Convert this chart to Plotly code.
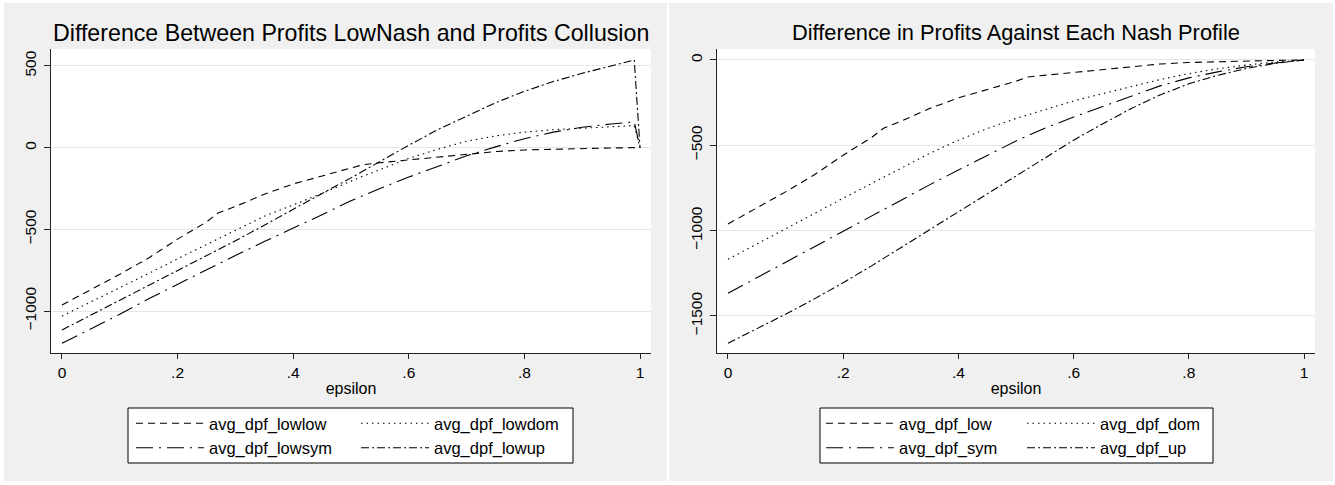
import plotly.graph_objects as go

# ---------------- data ----------------
eps = [0, .05, .1, .15, .2, .25, .27, .3, .35, .4, .45, .5, .52, .55, .6,
       .65, .7, .75, .8, .85, .9, .95, .99, 1.0]

# left panel: Difference Between Profits LowNash and Profits Collusion
avg_dpf_lowlow = [-963, -870, -775, -675, -560, -455, -400, -360, -285, -222, -172,
                  -125, -105, -92, -74, -56, -38, -24, -14, -9, -5, -2, 0, 0]
avg_dpf_lowdom = [-1031, -945, -860, -770, -680, -592, -558, -505, -420, -350, -280,
                  -205, -175, -135, -65, -10, 40, 72, 95, 110, 120, 128, 135, 0]
avg_dpf_lowsym = [-1198, -1110, -1020, -925, -835, -745, -712, -660, -575, -495, -410,
                  -325, -295, -250, -180, -115, -50, 5, 55, 95, 125, 145, 158, 0]
avg_dpf_lowup = [-1116, -1025, -935, -845, -755, -665, -628, -570, -475, -375, -280,
                 -185, -145, -85, 15, 110, 195, 275, 345, 405, 455, 500, 537, 0]

# right panel: Difference in Profits Against Each Nash Profile
avg_dpf_low = [-961, -868, -773, -673, -558, -453, -400, -360, -285, -222, -172,
               -125, -100, -90, -72, -55, -38, -24, -15, -10, -6, -3, -1, 0]
avg_dpf_dom = [-1168, -1080, -990, -900, -810, -722, -687, -635, -548, -470, -402,
               -343, -322, -290, -240, -198, -155, -115, -80, -52, -30, -12, -3, 0]
avg_dpf_sym = [-1367, -1276, -1185, -1094, -1003, -912, -876, -822, -732, -645, -558,
               -475, -445, -400, -335, -275, -215, -152, -105, -70, -40, -18, -5, 0]
avg_dpf_up = [-1660, -1575, -1490, -1400, -1305, -1205, -1165, -1100, -995, -890, -785,
              -680, -638, -575, -470, -375, -285, -205, -140, -90, -50, -20, -6, 0]

x_tickvals = [0, .2, .4, .6, .8, 1]
x_ticktext = ["0", ".2", ".4", ".6", ".8", "1"]
yl_tickvals = [-1000, -500, 0, 500]
yl_ticktext = ["\u22121000", "\u2212500", "0", "500"]
yr_tickvals = [-1500, -1000, -500, 0]
yr_ticktext = ["\u22121500", "\u22121000", "\u2212500", "0"]

title_left = "Difference Between Profits LowNash and Profits Collusion"
title_right = "Difference in Profits Against Each Nash Profile"

# ---------------- styling ----------------
W, H = 1335, 485
FONT = "Liberation Sans, Arial, sans-serif"
GRAY = "#F0F0F0"
GRID = "#E6E6E6"
AX = "#222222"

DASH = "7px,5px"
DOT = "1.5px,4px"
LONGDASHDOT = "17px,6px,2px,6px"
DASHDOT = "8px,3px,2px,3px"

def px_x(p):
    return p / W

def px_y(p):
    return 1 - p / H

fig = go.Figure()

left_series = [
    ("avg_dpf_lowlow", avg_dpf_lowlow, DASH, "legend"),
    ("avg_dpf_lowdom", avg_dpf_lowdom, DOT, "legend2"),
    ("avg_dpf_lowsym", avg_dpf_lowsym, LONGDASHDOT, "legend"),
    ("avg_dpf_lowup", avg_dpf_lowup, DASHDOT, "legend2"),
]
right_series = [
    ("avg_dpf_low", avg_dpf_low, DASH, "legend3"),
    ("avg_dpf_dom", avg_dpf_dom, DOT, "legend4"),
    ("avg_dpf_sym", avg_dpf_sym, LONGDASHDOT, "legend3"),
    ("avg_dpf_up", avg_dpf_up, DASHDOT, "legend4"),
]

for name, ys, dash, lg in left_series:
    fig.add_trace(go.Scatter(x=eps, y=ys, mode="lines", name=name,
                             line=dict(color="black", width=1.1, dash=dash),
                             xaxis="x", yaxis="y", legend=lg))
for name, ys, dash, lg in right_series:
    fig.add_trace(go.Scatter(x=eps, y=ys, mode="lines", name=name,
                             line=dict(color="black", width=1.1, dash=dash),
                             xaxis="x2", yaxis="y2", legend=lg))

tickfont = dict(family=FONT, size=15.5, color="black")
common_x = dict(range=[-0.019, 1.019], tickvals=x_tickvals, ticktext=x_ticktext,
                ticks="outside", ticklen=5, tickcolor=AX, tickwidth=1,
                showline=True, linecolor=AX, linewidth=1, showgrid=False,
                zeroline=False, tickfont=tickfont,
                title=dict(text="epsilon", font=dict(family=FONT, size=16, color="black"),
                           standoff=3))
common_y = dict(ticks="outside", ticklen=6, tickcolor=AX, tickwidth=1,
                showline=True, linecolor=AX, linewidth=1, showgrid=True,
                gridcolor=GRID, gridwidth=1, zeroline=False, tickfont=tickfont,
                tickangle=-90, ticklabelstandoff=2)

fig.update_layout(
    width=W, height=H,
    margin=dict(l=0, r=0, t=0, b=0),
    paper_bgcolor=GRAY, plot_bgcolor="white",
    showlegend=True,
    xaxis=dict(domain=[px_x(51), px_x(651)], anchor="y", **common_x),
    yaxis=dict(domain=[px_y(353), px_y(49)], anchor="x", range=[-1257, 604],
               tickvals=yl_tickvals, ticktext=yl_ticktext, **common_y),
    xaxis2=dict(domain=[px_x(717), px_x(1315)], anchor="y2", **common_x),
    yaxis2=dict(domain=[px_y(353), px_y(49)], anchor="x2", range=[-1717, 64],
                tickvals=yr_tickvals, ticktext=yr_ticktext, **common_y),
)

legend_common = dict(orientation="v", xanchor="left", yanchor="top",
                     bgcolor="rgba(0,0,0,0)", borderwidth=0, itemwidth=68,
                     font=dict(family=FONT, size=16.5, color="black"),
                     tracegroupgap=0)
fig.update_layout(
    legend=dict(x=px_x(131), y=px_y(406), **legend_common),
    legend2=dict(x=px_x(356), y=px_y(406), **legend_common),
    legend3=dict(x=px_x(821), y=px_y(406), **legend_common),
    legend4=dict(x=px_x(1022), y=px_y(406), **legend_common),
)

shapes = []
# white frame / separators around the two gray panels
for (x0, y0, x1, y1) in [(0, 0, W, 3), (0, 481, W, H), (0, 0, 4, H),
                         (1333, 0, W, H), (667, 0, 669, H)]:
    shapes.append(dict(type="rect", xref="paper", yref="paper", layer="below",
                       x0=px_x(x0), x1=px_x(x1), y0=px_y(y1), y1=px_y(y0),
                       fillcolor="white", line=dict(width=0)))
# legend boxes
for (x0, x1) in [(128, 573), (820, 1213)]:
    shapes.append(dict(type="rect", xref="paper", yref="paper", layer="below",
                       x0=px_x(x0), x1=px_x(x1), y0=px_y(463), y1=px_y(408),
                       fillcolor="white", line=dict(color="black", width=1)))
fig.update_layout(shapes=shapes)

fig.update_layout(annotations=[
    dict(text=title_left, xref="paper", yref="paper", x=px_x(351), y=px_y(33),
         xanchor="center", yanchor="middle", showarrow=False,
         font=dict(family=FONT, size=23.2, color="black")),
    dict(text=title_right, xref="paper", yref="paper", x=px_x(1016), y=px_y(33),
         xanchor="center", yanchor="middle", showarrow=False,
         font=dict(family=FONT, size=21.8, color="black")),
])

fig.write_html("out.html", config={"displayModeBar": False},
               post_script="document.body.style.margin='0';document.body.style.overflow='hidden';")
